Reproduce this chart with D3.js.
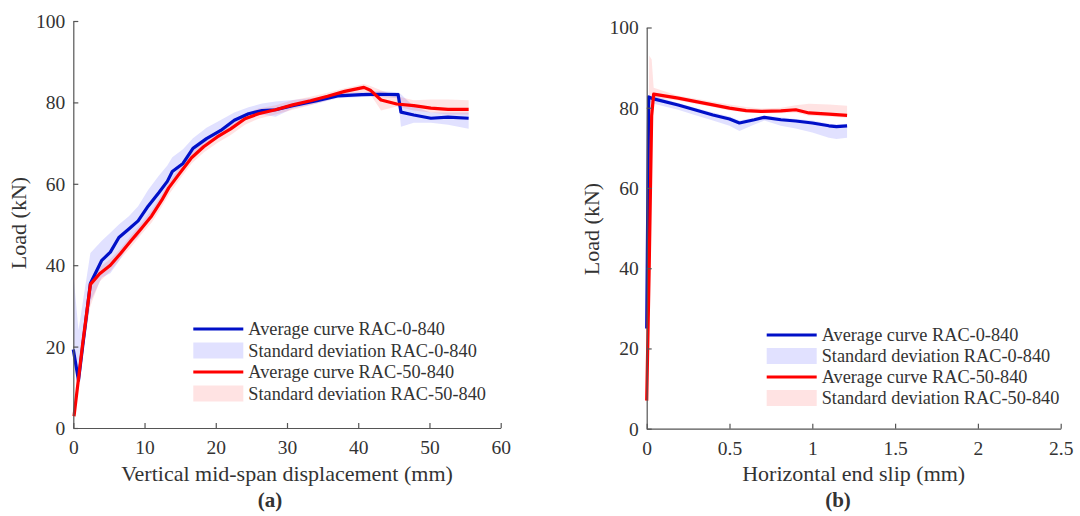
<!DOCTYPE html>
<html><head><meta charset="utf-8">
<script src="https://cdn.jsdelivr.net/npm/d3@7/dist/d3.min.js"></script>
<style>
body{margin:0;background:#fff;}
svg text{font-family:"Liberation Serif","Times New Roman",serif;fill:#333;}
</style></head>
<body><svg id="c" width="1080" height="516"></svg>
<script>
// ---- Data: (a) load vs vertical mid-span displacement ----
const aDispBlue = [0,0.73,2.4,4.0,5.2,6.4,7.8,9.1,10.5,12.0,13.2,13.9,15.4,16.8,18.7,20.7,22.6,24.6,26.5,28.4,30.8,34.2,37.1,40.5,43.0,45.6,46.0,47.8,50.2,52.6,55.5];
const aLoadBlue = [19.3,11.7,35.5,41.2,43.2,46.8,48.9,50.9,54.5,57.8,60.6,63.0,65.0,68.7,71.1,73.1,75.6,77.2,78.0,78.2,79.2,80.4,81.6,81.9,82.0,81.9,77.6,76.9,76.1,76.4,76.1];
const aLowBlue  = [17,11,31,37,38,41,45,47,51,55,58,60.5,63,66.5,69.5,71.5,74,76,77,76.5,78.5,79.7,81,81.3,81.3,81,74,75,75,74.5,73.5];
const aHighBlue = [38,24,43,46,48,50,52,54.5,58.5,62,64.5,66.5,68.5,71.2,73.8,75.7,77.5,78.8,79.7,80.2,80.6,81.2,82.3,82.5,82.8,82.5,82,79,77.5,77.5,77.5];

const aDispRed = [0.1,1.3,2.4,3.7,5.2,6.6,8.1,9.5,11.0,12.4,13.4,14.9,16.6,18.3,20.2,22.1,24.1,26.0,28.4,30.8,33.3,35.7,38.1,40.8,41.7,43.2,45.4,47.8,50.2,52.6,55.5];
const aLoadRed = [2.9,20.5,35.3,37.9,40.0,42.8,46.0,48.9,52.1,55.9,59.0,62.5,66.4,69.1,71.5,73.5,76.0,77.2,78.2,79.4,80.4,81.5,82.7,83.7,83.0,80.6,79.6,79.2,78.6,78.3,78.3];
const aLowRed  = [2,18,30,36,38.5,41.5,44.5,47.5,50.5,54.3,57.3,61,65,67.7,70,72,74.5,76,77,78.2,79.3,80.5,82,82.5,82,78,79,78,77.5,77,77];
const aHighRed = [4,22,36,39.5,41.5,44,47.3,50.2,53.5,57.3,60.3,64,67.7,70.5,72.8,74.8,77.2,78.5,79.3,80.5,81.4,82.4,83.5,84.5,84,83,81.5,80.5,80.7,80.7,80.5];

// ---- Data: (b) load vs horizontal end slip ----
const bSlipBlue = [0,0.012,0.042,0.19,0.29,0.40,0.50,0.56,0.65,0.71,0.81,0.90,1.00,1.10,1.146,1.21];
const bLoadBlue = [25,82.7,82.2,80.7,79.5,78.2,77.2,76.2,77.0,77.6,77.0,76.7,76.2,75.5,75.3,75.5];
const bLowBlue  = [30,81.5,81,79.5,78.2,76.8,75.5,74.2,75.8,76.8,75.5,74.8,73.8,72.5,72.2,72.5];
const bHighBlue = [83,83,83,81.2,80,78.8,77.8,76.8,77.5,78,77.6,77.2,76.8,76,75.8,76];

const bSlipRed = [0,0.015,0.03,0.042,0.19,0.29,0.40,0.50,0.60,0.69,0.81,0.90,0.98,1.10,1.21];
const bLoadRed = [7,40,78,83.4,82.4,81.6,80.7,79.9,79.3,79.1,79.2,79.5,78.7,78.4,78.1];
const bLowRed  = [5,38,76,82.5,81.8,81,80.2,79.3,78.8,78.6,78.6,78.8,78,77.8,77.5];
const bHighRed = [9,93,92,85,83,82.3,81.5,80.8,80.2,79.8,80,80.6,81,80.8,80.5];

// ---- Axes ticks and labels ----
const aXTicks = [0,10,20,30,40,50,60];
const bXTicks = [0,0.5,1,1.5,2,2.5];
const yTicks = [0,20,40,60,80,100];
const legendLabels = ["Average curve RAC-0-840","Standard deviation RAC-0-840","Average curve RAC-50-840","Standard deviation RAC-50-840"];
const yTitle = "Load (kN)";
const aXTitle = "Vertical mid-span displacement (mm)";
const bXTitle = "Horizontal end slip (mm)";

const BLUE = "#0010c8", RED = "#ff0000";
const BLUEFILL = "rgba(40,40,255,0.14)", REDFILL = "rgba(255,40,40,0.13)";
const svg = d3.select("#c");

function panel(o){
  const g = svg.append("g");
  const x = d3.scaleLinear().domain(o.xDomain).range([o.x0,o.x1]);
  const y = d3.scaleLinear().domain([0,100]).range([o.y0,o.y1]);
  const zip = (xs,lo,hi)=>xs.map((v,i)=>({x:v,lo:lo[i],hi:hi[i]}));
  const area = d3.area().x(d=>x(d.x)).y0(d=>y(d.lo)).y1(d=>y(d.hi));
  const line = d3.line().x(d=>x(d[0])).y(d=>y(d[1]));
  g.append("path").attr("d",area(zip(o.bx,o.blo,o.bhi))).attr("fill",BLUEFILL);
  g.append("path").attr("d",area(zip(o.rx,o.rlo,o.rhi))).attr("fill",REDFILL);
  g.append("path").attr("d",line(o.bx.map((v,i)=>[v,o.by[i]]))).attr("fill","none").attr("stroke",BLUE).attr("stroke-width",3.2).attr("stroke-linejoin","round");
  g.append("path").attr("d",line(o.rx.map((v,i)=>[v,o.ry[i]]))).attr("fill","none").attr("stroke",RED).attr("stroke-width",3.2).attr("stroke-linejoin","round");

  const xa = g.append("g").attr("transform",`translate(0,${o.y0})`)
    .call(d3.axisBottom(x).tickValues(o.xTicks).tickSizeInner(-5).tickSizeOuter(0).tickPadding(12).tickFormat(d=>d));
  const ya = g.append("g").attr("transform",`translate(${o.x0},0)`)
    .call(d3.axisLeft(y).tickValues(yTicks).tickSizeInner(-5).tickSizeOuter(0).tickPadding(8));
  [xa,ya].forEach(a=>{
    a.attr("font-family",null);
    a.select(".domain").attr("stroke","#555").attr("stroke-width",1.2);
    a.selectAll(".tick line").attr("stroke","#555").attr("stroke-width",1.2);
    a.selectAll(".tick text").attr("font-size",19.5).attr("fill","#333");
  });
  xa.selectAll(".tick text").attr("dy","0.72em");
  ya.selectAll(".tick text").attr("dy","0.33em");

  g.append("text").attr("x",(o.x0+o.x1)/2).attr("y",481).attr("text-anchor","middle").attr("font-size",22).text(o.xTitle);
  g.append("text").attr("transform",`translate(${o.yLabX},${o.yLabY}) rotate(-90)`).attr("text-anchor","middle").attr("font-size",22).text(yTitle);
  g.append("text").attr("x",o.tagX).attr("y",507).attr("text-anchor","middle").attr("font-size",21).attr("font-weight","bold").attr("fill","#111").text(o.tag);

  // legend
  const lg = g.append("g");
  legendLabels.forEach((lab,i)=>{
    const cy = o.legY + i*o.legDY;
    if(i%2===0){
      lg.append("line").attr("x1",o.legX).attr("x2",o.legX+50).attr("y1",cy).attr("y2",cy)
        .attr("stroke",i===0?BLUE:RED).attr("stroke-width",3.2);
    } else {
      lg.append("rect").attr("x",o.legX).attr("y",cy-8).attr("width",50).attr("height",16)
        .attr("fill",i===1?BLUEFILL:REDFILL);
    }
    lg.append("text").attr("x",o.legX+55).attr("y",cy).attr("dy","0.35em").attr("font-size",18.3).text(lab);
  });
}

panel({x0:73.3,x1:500.7,y0:428,y1:21,xDomain:[0,60],xTicks:aXTicks,
  bx:aDispBlue,by:aLoadBlue,blo:aLowBlue,bhi:aHighBlue,
  rx:aDispRed,ry:aLoadRed,rlo:aLowRed,rhi:aHighRed,
  xTitle:aXTitle,yLabX:26,yLabY:223,tag:"(a)",tagX:270,legX:193.3,legY:329,legDY:21.5});
panel({x0:646.7,x1:1060.7,y0:428.7,y1:27.5,xDomain:[0,2.5],xTicks:bXTicks,
  bx:bSlipBlue,by:bLoadBlue,blo:bLowBlue,bhi:bHighBlue,
  rx:bSlipRed,ry:bLoadRed,rlo:bLowRed,rhi:bHighRed,
  xTitle:bXTitle,yLabX:599,yLabY:229,tag:"(b)",tagX:838,legX:766.7,legY:335,legDY:21});
</script></body></html>
